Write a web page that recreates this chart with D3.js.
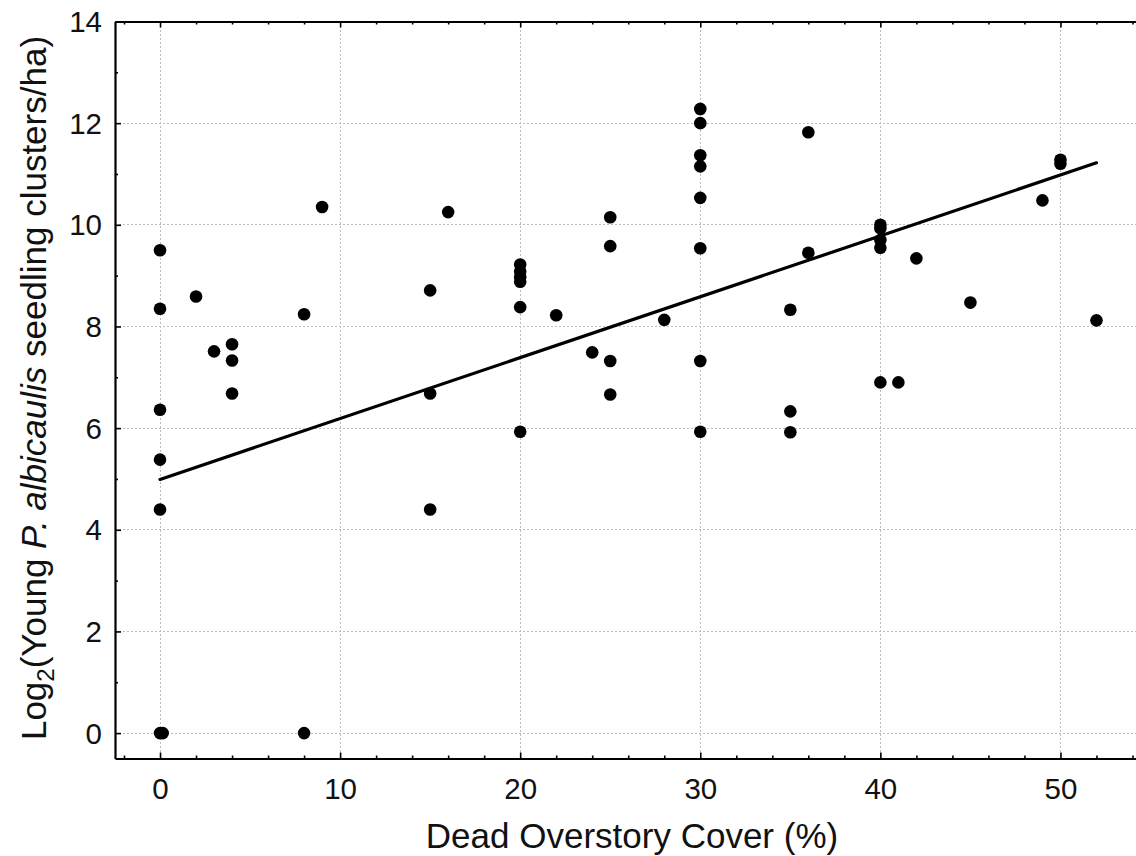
<!DOCTYPE html>
<html>
<head>
<meta charset="utf-8">
<script src="https://cdn.jsdelivr.net/npm/d3@7"></script>
<style>
  html, body { margin: 0; padding: 0; background: #fff; }
  svg { display: block; font-family: "Liberation Sans", Arial, sans-serif; }
</style>
</head>
<body>
<svg id="chart" width="1136" height="856"></svg>
<script>
// Dead overstory cover (%) for each plot
const coverPct = [
  0, 0, 0, 0, 0, 0, 0.15,
  2, 3, 4, 4, 4,
  8, 8, 9,
  15, 15, 15, 16,
  20, 20, 20, 20, 20, 20,
  22, 24,
  25, 25, 25, 25,
  28,
  30, 30, 30, 30, 30, 30, 30, 30,
  35, 35, 35, 36, 36,
  40, 40, 40, 40, 40, 41, 42, 45, 49,
  50, 50, 52
];
// Log2 of young seedling cluster density (clusters/ha) for each plot
const log2Clusters = [
  9.50, 8.35, 6.36, 5.38, 4.40, 0, 0,
  8.59, 7.51, 7.65, 7.33, 6.68,
  8.24, 0, 10.35,
  8.71, 6.68, 4.40, 10.25,
  9.22, 9.08, 8.97, 8.88, 8.38, 5.93,
  8.22, 7.49,
  10.15, 9.58, 7.32, 6.66,
  8.13,
  12.28, 12.00, 11.37, 11.15, 10.53, 9.54, 7.32, 5.93,
  8.33, 6.33, 5.92, 11.82, 9.45,
  10.00, 9.93, 9.70, 9.55, 6.90, 6.90, 9.34, 8.47, 10.48,
  11.28, 11.20, 8.12
];
// Linear fit: intercept, slope and the cover range it spans
const fitIntercept = 4.99;
const fitSlope = 0.1198;
const fitRange = [0, 52];

const xMajorTicks = [0, 10, 20, 30, 40, 50];
const xMinorTicks = [-2, 2, 4, 6, 8, 12, 14, 16, 18, 22, 24, 26, 28, 32, 34, 36, 38, 42, 44, 46, 48, 52, 54];
const yMajorTicks = [0, 2, 4, 6, 8, 10, 12, 14];
const yMinorTicks = [1, 3, 5, 7, 9, 11, 13];

const svg = d3.select("#chart");

const x = d3.scaleLinear().domain([-2.5, 55]).range([115, 1150.5]);
const y = d3.scaleLinear().domain([-0.5, 14]).range([758.5, 21.5]);

const plotTop = y.range()[1], plotBottom = y.range()[0];
const plotLeft = x.range()[0], plotRight = x.range()[1];

// dotted grid
const grid = svg.append("g").attr("stroke", "#bdbdbd").attr("stroke-width", 1)
  .attr("stroke-dasharray", "2,2").attr("shape-rendering", "crispEdges");
grid.selectAll("line.v").data(xMajorTicks).join("line").attr("class", "v")
  .attr("x1", d => x(d)).attr("x2", d => x(d)).attr("y1", plotTop).attr("y2", plotBottom);
grid.selectAll("line.h").data(yMajorTicks.filter(d => d < 14)).join("line").attr("class", "h")
  .attr("x1", plotLeft).attr("x2", plotRight).attr("y1", d => y(d)).attr("y2", d => y(d));

function styleAxis(g) {
  g.selectAll("path.domain").attr("stroke", "#000").attr("stroke-width", 2.2);
  g.selectAll(".tick line").attr("stroke", "#000").attr("stroke-width", 1.6);
  g.selectAll("text").attr("fill", "#111").attr("font-size", 29.5)
    .attr("font-family", "'Liberation Sans', Arial, sans-serif");
}

// bottom axis
const gb = svg.append("g").attr("transform", `translate(0,${plotBottom})`)
  .call(d3.axisBottom(x).tickValues(xMajorTicks).tickSizeInner(-6).tickSizeOuter(0)
    .tickPadding(19.5).tickFormat(d3.format("d")));
styleAxis(gb);
svg.append("g").attr("transform", `translate(0,${plotBottom})`)
  .call(d3.axisBottom(x).tickValues(xMinorTicks).tickSizeInner(-3).tickSizeOuter(0).tickFormat(""))
  .call(g => g.select("path.domain").remove())
  .call(styleAxis);

// top axis
svg.append("g").attr("transform", `translate(0,${plotTop})`)
  .call(d3.axisTop(x).tickValues(xMajorTicks).tickSizeInner(-6).tickSizeOuter(0).tickFormat(""))
  .call(styleAxis);
svg.append("g").attr("transform", `translate(0,${plotTop})`)
  .call(d3.axisTop(x).tickValues(xMinorTicks).tickSizeInner(-3).tickSizeOuter(0).tickFormat(""))
  .call(g => g.select("path.domain").remove())
  .call(styleAxis);

// left axis
const gl = svg.append("g").attr("transform", `translate(${plotLeft},0)`)
  .call(d3.axisLeft(y).tickValues(yMajorTicks).tickSizeInner(-6).tickSizeOuter(0)
    .tickPadding(13).tickFormat(d3.format("d")));
styleAxis(gl);
gl.selectAll("text").attr("dy", "0.34em");
svg.append("g").attr("transform", `translate(${plotLeft},0)`)
  .call(d3.axisLeft(y).tickValues(yMinorTicks).tickSizeInner(-3).tickSizeOuter(0).tickFormat(""))
  .call(g => g.select("path.domain").remove())
  .call(styleAxis);

// fitted line
svg.append("line")
  .attr("x1", x(fitRange[0])).attr("y1", y(fitIntercept + fitSlope * fitRange[0]))
  .attr("x2", x(fitRange[1])).attr("y2", y(fitIntercept + fitSlope * fitRange[1]))
  .attr("stroke", "#000").attr("stroke-width", 3.2).attr("stroke-linecap", "round");

// observations
svg.append("g").selectAll("circle")
  .data(coverPct.map((c, i) => [c, log2Clusters[i]]))
  .join("circle")
  .attr("cx", d => x(d[0])).attr("cy", d => y(d[1]))
  .attr("r", 6.3).attr("fill", "#000");

// axis titles
svg.append("text")
  .attr("x", 632).attr("y", 848)
  .attr("text-anchor", "middle").attr("font-size", 35).attr("fill", "#111")
  .text("Dead Overstory Cover (%)");

const yt = svg.append("text")
  .attr("transform", "translate(46,388) rotate(-90)")
  .attr("text-anchor", "middle").attr("font-size", 35).attr("fill", "#111");
yt.append("tspan").text("Log");
yt.append("tspan").attr("font-size", 24).attr("dy", 8).text("2");
yt.append("tspan").attr("dy", -8).text("(Young ");
yt.append("tspan").attr("font-style", "italic").text("P. albicaulis");
yt.append("tspan").text(" seedling clusters/ha)");
</script>
</body>
</html>
